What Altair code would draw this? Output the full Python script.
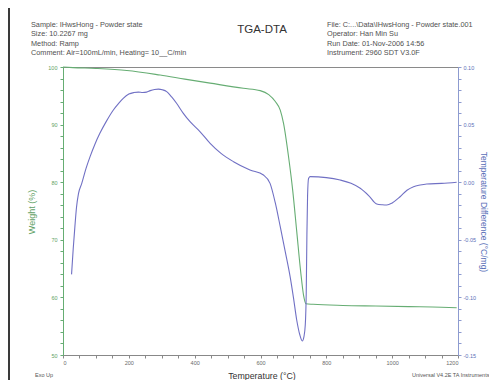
import altair as alt
import pandas as pd

# ---- data ----
temp_w = [0, 30, 100, 194, 295, 370, 447, 548, 599, 625, 645, 660, 670, 685, 698, 710, 722, 731, 738,
          760, 850, 950, 1050, 1150, 1196]
weight = [100.0, 99.9, 99.75, 99.4, 98.6, 97.9, 97.2, 96.3, 95.9, 95.2, 94.0, 92.5, 90.2, 84.5, 78.5,
          71.5, 64.5, 60.3, 58.9, 58.8, 58.6, 58.5, 58.4, 58.3, 58.2]

temp_d = [26, 31, 36, 41, 47, 57, 70, 82, 97, 112, 132, 153, 168, 183, 200, 215, 229, 242, 254, 265,
          278, 290, 302, 315, 330, 345, 365, 386, 416, 447, 480, 518, 568, 609, 629, 645, 660, 675,
          690, 700, 710, 719, 727, 732, 736, 739, 741, 743, 746, 751, 800, 842, 875, 903, 930, 953,
          970, 984, 1000, 1024, 1045, 1065, 1085, 1105, 1150, 1196]
dta = [-0.080, -0.058, -0.039, -0.022, -0.010, -0.001, 0.012, 0.022, 0.033, 0.0424, 0.053, 0.0627,
       0.068, 0.0728, 0.0765, 0.0778, 0.0782, 0.0779, 0.0782, 0.0795, 0.0805, 0.0808, 0.0802, 0.0786,
       0.074, 0.0685, 0.060, 0.0525, 0.044, 0.0337, 0.025, 0.0178, 0.0106, 0.0062, -0.001, -0.018,
       -0.0386, -0.060, -0.082, -0.100, -0.1196, -0.132, -0.1378, -0.134, -0.124, -0.095, -0.045,
       -0.012, 0.0033, 0.0048, 0.004, 0.0019, -0.001, -0.0053, -0.012, -0.0189, -0.0196, -0.0198,
       -0.018, -0.0126, -0.007, -0.0039, -0.0025, -0.0016, -0.001, 0.0]

x_ticks = list(range(0, 1201, 50))
left_ticks = list(range(50, 101, 2))
right_ticks = [round(-0.15 + 0.01 * i, 2) for i in range(26)]

header_left = ("Sample: IHwsHong - Powder state\nSize:  10.2267 mg\nMethod: Ramp\n"
               "Comment: Air=100mL/min, Heating= 10__C/min")
header_right = ("File: C:...\\Data\\IHwsHong - Powder state.001\nOperator: Han Min Su\n"
                "Run Date: 01-Nov-2006 14:56\nInstrument: 2960 SDT V3.0F")
title_text = "TGA-DTA"
x_title = "Temperature (°C)"
left_title = "Weight (%)"
right_title = "Temperature Difference (°C/mg)"
footer_left = "Exo Up"
footer_right = "Universal V4.2E TA Instruments"

FONT = "Liberation Sans"
GREEN = "#66ad73"
BLUE = "#7070c4"
GREEN_TXT = "#5f9f66"
BLUE_TXT = "#5a6fb8"
GRAY_TXT = "#6a6a6a"

tga_df = pd.DataFrame({"T": temp_w, "W": weight})
dta_df = pd.DataFrame({"T": temp_d, "D": dta})
one = pd.DataFrame({"k": [0]})

x_scale = alt.Scale(domain=[0, 1200], nice=False, zero=False)
x_axis = alt.Axis(values=x_ticks, format="d",
                  labelExpr="datum.value % 200 === 0 ? datum.label : ''",
                  title=None, domainColor="#888", tickColor="#888", tickSize=3,
                  labelColor=GRAY_TXT, labelFontSize=5.5, labelPadding=2, labelFont=FONT)

tga = alt.Chart(tga_df).mark_line(color=GREEN, strokeWidth=1.1, interpolate="monotone").encode(
    x=alt.X("T:Q", scale=x_scale, axis=x_axis),
    y=alt.Y("W:Q", scale=alt.Scale(domain=[50, 100], nice=False, zero=False),
            axis=alt.Axis(orient="left", values=left_ticks, format="d",
                          labelExpr="datum.value % 10 === 0 ? datum.label : ''",
                          title=None, domainColor=GREEN, tickColor=GREEN, tickSize=3,
                          labelColor=GREEN_TXT, labelFontSize=5.5, labelPadding=3, labelFont=FONT)),
)

dta_line = alt.Chart(dta_df).mark_line(color=BLUE, strokeWidth=1.1, interpolate="monotone").encode(
    x=alt.X("T:Q", scale=x_scale, axis=x_axis),
    y=alt.Y("D:Q", scale=alt.Scale(domain=[-0.15, 0.10], nice=False, zero=False),
            axis=alt.Axis(orient="right", values=right_ticks,
                          labelExpr="abs(round(datum.value*100)) % 5 === 0 ? "
                                    "((datum.value < -0.001 ? '-' : '') + format(abs(datum.value), '.2f')) : ''",
                          title=None, domainColor="#8d9bd0", tickColor="#8d9bd0", tickSize=3,
                          labelColor=BLUE_TXT, labelFontSize=5.5, labelPadding=2, labelFont=FONT)),
)

def txt(text, x, y, size, color, align="left", baseline="middle", angle=0, line_h=None):
    kw = dict(font=FONT, fontSize=size, color=color, align=align, baseline=baseline)
    if angle:
        kw["angle"] = angle
    if line_h:
        kw["lineBreak"] = "\n"
        kw["lineHeight"] = line_h
    return alt.Chart(one).mark_text(**kw).encode(
        x=alt.value(x), y=alt.value(y), text=alt.value(text))

frame = alt.Chart(one).mark_rule(color="#3a3a3a", strokeWidth=2).encode(
    x=alt.value(-54), y=alt.value(-70), y2=alt.value(330))

layers = [
    frame,
    tga, dta_line,
    txt(header_left, -32, -46, 7.3, "#505050", baseline="top", line_h=9.3),
    txt(header_right, 264, -46, 7.3, "#505050", baseline="top", line_h=9.3),
    txt(title_text, 199, -37, 11.5, "#333333", align="center"),
    txt(x_title, 199, 309, 8.8, "#333333", align="center"),
    txt(left_title, -31, 145, 9, GREEN_TXT, align="center", angle=270),
    txt(right_title, 421, 145, 8.5, BLUE_TXT, align="center", angle=90),
    txt(footer_left, -28, 308, 5.5, "#555555"),
    txt(footer_right, 349, 308, 5.5, "#555555"),
]

chart = alt.layer(*layers).resolve_scale(y="independent").properties(
    width=395, height=288,
    autosize=alt.AutoSizeParams(type="none"),
    padding={"left": 55, "top": 59, "right": 31, "bottom": 25},
    background="white",
).configure_view(stroke="#8a8a8a", strokeWidth=1).configure_axis(grid=False)

chart.save("out.html", embed_options={"renderer": "svg", "actions": False})
